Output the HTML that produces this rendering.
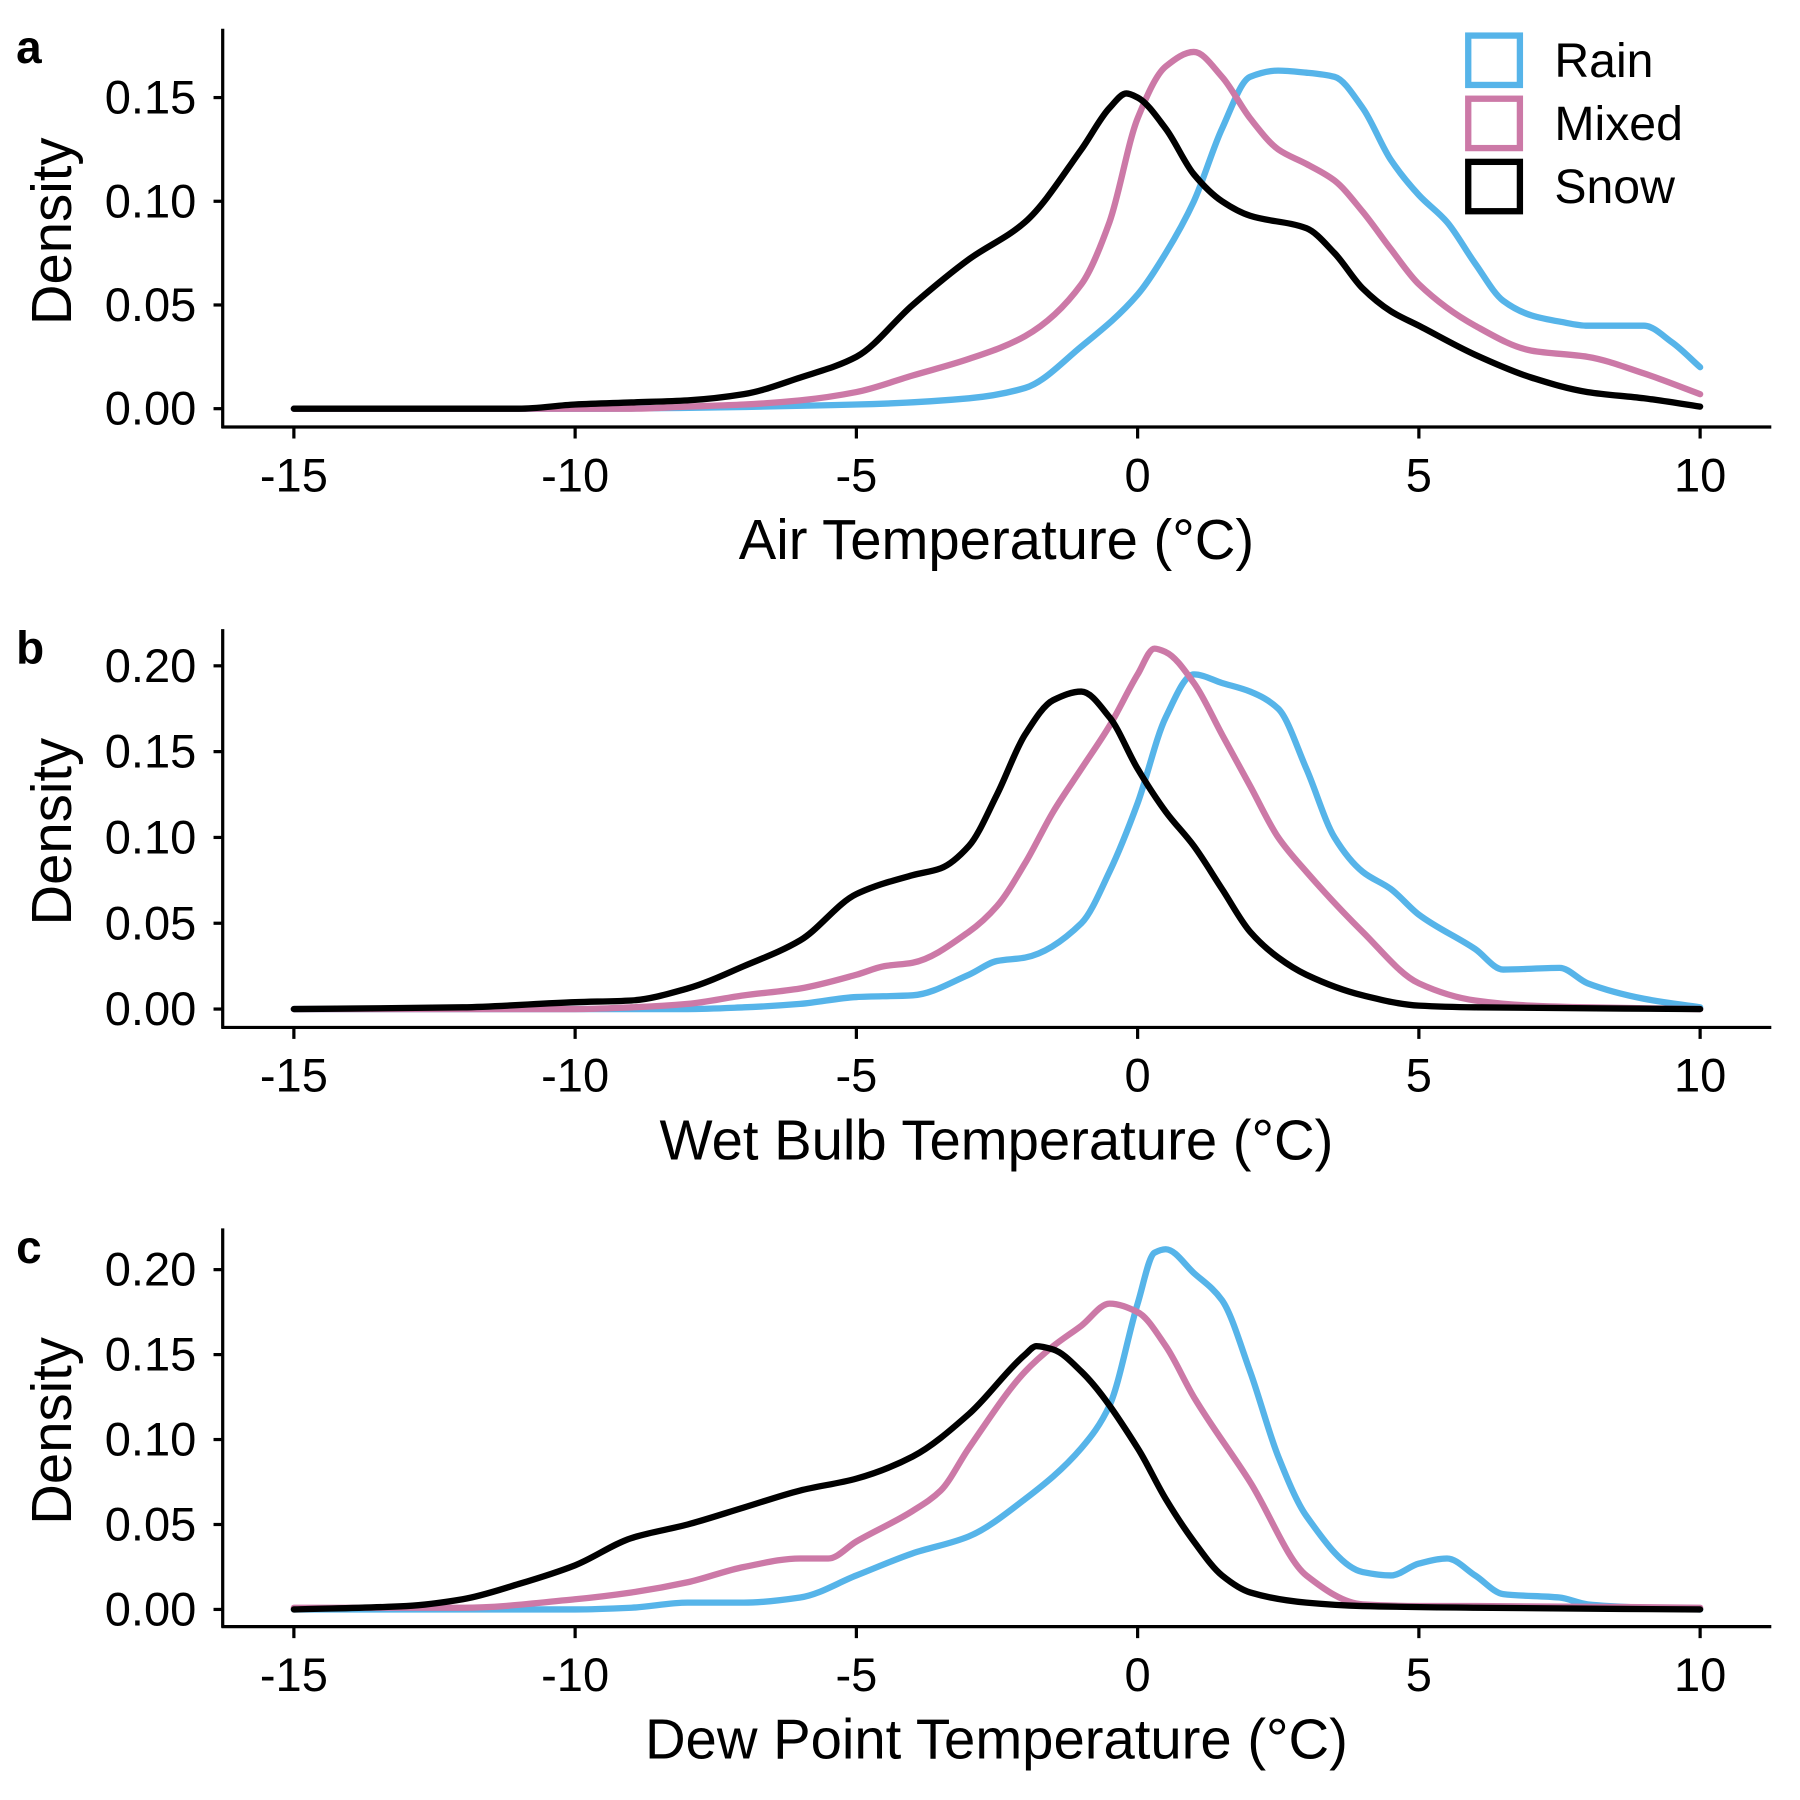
<!DOCTYPE html>
<html><head><meta charset="utf-8"><style>
body{margin:0;background:#fff}
svg{display:block}
text{font-family:"Liberation Sans",sans-serif;fill:#000}
</style></head><body>
<svg id="chart" width="1800" height="1800" viewBox="0 0 1568 1568" xmlns="http://www.w3.org/2000/svg"></svg>
<script>
// Panel a: Air temperature
const aRainX=[-15,-10,-5,-3,-2,-1,0,0.5,1,1.5,2,2.5,3,3.5,4,4.5,5,5.5,6,6.5,7,7.5,8,8.5,9,9.5,10];
const aRainY=[0,0,0.002,0.005,0.01,0.03,0.055,0.075,0.1,0.135,0.16,0.163,0.162,0.16,0.145,0.12,0.103,0.09,0.07,0.052,0.045,0.042,0.04,0.04,0.04,0.032,0.02];
const aMixX=[-15,-9,-8,-7,-6,-5,-4,-3,-2,-1,-0.5,0,0.5,1,1.5,2,2.5,3,3.5,4,4.5,5,6,7,8,9,10];
const aMixY=[0,0,0.001,0.002,0.004,0.008,0.016,0.024,0.035,0.06,0.09,0.14,0.165,0.172,0.16,0.14,0.125,0.118,0.11,0.095,0.077,0.06,0.04,0.028,0.025,0.017,0.007];
const aSnowX=[-15,-11,-10,-9,-8,-7,-6,-5,-4,-3,-2,-1,-0.5,-0.2,0,0.5,1,1.5,2,3,3.5,4,4.5,5,6,7,8,9,10];
const aSnowY=[0,0,0.002,0.003,0.004,0.007,0.015,0.025,0.05,0.072,0.09,0.125,0.145,0.152,0.15,0.135,0.113,0.1,0.093,0.087,0.075,0.058,0.047,0.04,0.026,0.015,0.008,0.005,0.001];
// Panel b: Wet bulb
const bRainX=[-15,-9,-8,-7,-6,-5,-4,-3,-2.5,-2,-1,-0.5,0,0.5,1,1.5,2,2.5,3,3.5,4,4.5,5,6,6.5,7.5,8,9,10];
const bRainY=[0,0,0,0.001,0.003,0.007,0.008,0.02,0.028,0.03,0.05,0.08,0.12,0.17,0.195,0.19,0.185,0.175,0.14,0.1,0.08,0.07,0.055,0.035,0.023,0.024,0.015,0.006,0.001];
const bMixX=[-15,-10,-9,-8,-7,-6,-5,-4.5,-4,-3,-2.5,-2,-1.5,-1,-0.5,0,0.3,0.5,1,1.5,2,2.5,3,4,5,6,7,8,10];
const bMixY=[0,0,0.001,0.003,0.008,0.012,0.02,0.025,0.027,0.045,0.06,0.085,0.115,0.14,0.165,0.195,0.21,0.208,0.19,0.16,0.13,0.1,0.08,0.045,0.015,0.005,0.002,0.001,0];
const bSnowX=[-15,-12,-10,-9,-8,-7,-6,-5,-4,-3.5,-3,-2.5,-2,-1.5,-1,-0.5,0,0.5,1,1.5,2,2.5,3,4,5,6,10];
const bSnowY=[0,0.001,0.004,0.005,0.012,0.025,0.04,0.067,0.078,0.082,0.095,0.125,0.16,0.18,0.185,0.17,0.14,0.115,0.095,0.07,0.045,0.03,0.02,0.008,0.002,0.001,0];
// Panel c: Dew point
const cRainX=[-15,-10,-9,-8,-7,-6,-5,-4,-3,-2,-1,-0.5,0,0.3,0.5,1,1.5,2,2.5,3,4,4.5,5,5.5,6,6.5,7.5,8,9,10];
const cRainY=[0,0,0.001,0.004,0.004,0.007,0.02,0.033,0.043,0.065,0.095,0.12,0.18,0.21,0.212,0.198,0.182,0.14,0.09,0.055,0.022,0.02,0.027,0.03,0.02,0.009,0.007,0.003,0.001,0];
const cMixX=[-15,-12,-10,-9,-8,-7,-6,-5.5,-5,-4,-3.5,-3,-2,-1.5,-1,-0.5,0,0.5,1,2,3,4,5,6,10];
const cMixY=[0.001,0.001,0.006,0.01,0.016,0.025,0.03,0.03,0.04,0.058,0.07,0.095,0.14,0.155,0.167,0.18,0.175,0.155,0.125,0.075,0.02,0.003,0.002,0.002,0.001];
const cSnowX=[-15,-13,-12,-11,-10,-9,-8,-7,-6,-5,-4,-3,-2,-1.8,-1.5,-1,0,0.5,1,1.5,2,3,4,6,10];
const cSnowY=[0,0.002,0.006,0.015,0.026,0.042,0.05,0.06,0.07,0.077,0.09,0.115,0.15,0.155,0.153,0.14,0.095,0.065,0.04,0.02,0.01,0.004,0.002,0.001,0];
const xTicks=[-15,-10,-5,0,5,10];
const aTicks=[0,0.05,0.1,0.15], bTicks=[0,0.05,0.1,0.15,0.2];
const NS="http://www.w3.org/2000/svg";
const svg=document.getElementById('chart');
function mk(tag,attrs,parent){const e=document.createElementNS(NS,tag);for(const k in attrs)e.setAttribute(k,attrs[k]);(parent||svg).appendChild(e);return e;}
const COL={rain:"#56B4E9",mixed:"#CC79A7",snow:"#000000"};
function xs(v){return 256+(v+15)*49;}
// monotone cubic (Fritsch-Carlson) in screen coords
function smooth(pts){
 const n=pts.length, d=[], m=[];
 for(let i=0;i<n-1;i++)d.push((pts[i+1][1]-pts[i][1])/(pts[i+1][0]-pts[i][0]));
 m[0]=d[0];m[n-1]=d[n-2];
 for(let i=1;i<n-1;i++){ if(d[i-1]*d[i]<=0)m[i]=0; else {const h0=pts[i][0]-pts[i-1][0],h1=pts[i+1][0]-pts[i][0];const w1=2*h1+h0,w2=h1+2*h0;m[i]=(w1+w2)/(w1/d[i-1]+w2/d[i]);} }
 let s=`M${pts[0][0]},${pts[0][1]}`;
 for(let i=0;i<n-1;i++){const h=pts[i+1][0]-pts[i][0];
  s+=`C${pts[i][0]+h/3},${pts[i][1]+m[i]*h/3} ${pts[i+1][0]-h/3},${pts[i+1][1]-m[i+1]*h/3} ${pts[i+1][0]},${pts[i+1][1]}`;}
 return s;}
const panels=[
 {id:'a',axisY:372,top:25,y0:356,per:1806.7,ticks:aTicks,title:'Air Temperature (°C)',series:[['rain',aRainX,aRainY],['mixed',aMixX,aMixY],['snow',aSnowX,aSnowY]]},
 {id:'b',axisY:895,top:548,y0:879,per:1495,ticks:bTicks,title:'Wet Bulb Temperature (°C)',series:[['rain',bRainX,bRainY],['mixed',bMixX,bMixY],['snow',bSnowX,bSnowY]]},
 {id:'c',axisY:1417,top:1070,y0:1402,per:1480,ticks:bTicks,title:'Dew Point Temperature (°C)',series:[['rain',cRainX,cRainY],['mixed',cMixX,cMixY],['snow',cSnowX,cSnowY]]}
];
panels.forEach(p=>{
 const g=mk('g',{});
 
 
 const ys=v=>p.y0-v*p.per;
 const lab=mk('text',{x:14,y:p.top+30,'font-size':40,'font-weight':'bold'},g);lab.textContent=p.id;
 
 
 const ya=mk('line',{x1:194,x2:194,y1:p.top,y2:p.axisY+1,stroke:'#000','stroke-width':2.8},g);
 
 
 const xa=mk('line',{x1:193,x2:1543,y1:p.axisY,y2:p.axisY,stroke:'#000','stroke-width':2.8},g);
 
 
 p.ticks.forEach(t=>{const y=ys(t);mk('line',{x1:186,x2:194,y1:y,y2:y,stroke:'#000','stroke-width':2.8},g);
  const tx=mk('text',{x:171,y:y+14,'font-size':41,'text-anchor':'end'},g);tx.textContent=t.toFixed(2);
  
  });
 xTicks.forEach(t=>{const x=xs(t);mk('line',{x1:x,x2:x,y1:p.axisY,y2:p.axisY+10,stroke:'#000','stroke-width':2.8},g);
  const tx=mk('text',{x:x,y:p.axisY+56,'font-size':41,'text-anchor':'middle'},g);tx.textContent=t;
  
  });
 const xt=mk('text',{x:868,y:p.axisY+115,'font-size':49,'text-anchor':'middle'},g);xt.textContent=p.title;
 
 
 const cy=(p.top+p.axisY)/2+3;
 const yt=mk('text',{x:62,y:cy,'font-size':49,'text-anchor':'middle',transform:`rotate(-90 62 ${cy})`},g);yt.textContent='Density';
 
 
 p.series.forEach(([k,X,Y])=>{const pts=X.map((x,i)=>[xs(x),ys(Y[i])]);
  const path=mk('path',{d:smooth(pts),fill:'none',stroke:COL[k],'stroke-width':5.5,'stroke-linecap':'round','stroke-linejoin':'round'},g);
  
  });
});
const lg=mk('g',{});


[['rain','Rain',30],['mixed','Mixed',85],['snow','Snow',140]].forEach(([k,l,y])=>{
 const r=mk('rect',{x:1279,y:y+1,width:45,height:43,fill:'none',stroke:COL[k],'stroke-width':5.5},lg);
 
 
 const t=mk('text',{x:1354,y:y+37,'font-size':42},lg);t.textContent=l;
 
 
});
</script>
</body></html>
